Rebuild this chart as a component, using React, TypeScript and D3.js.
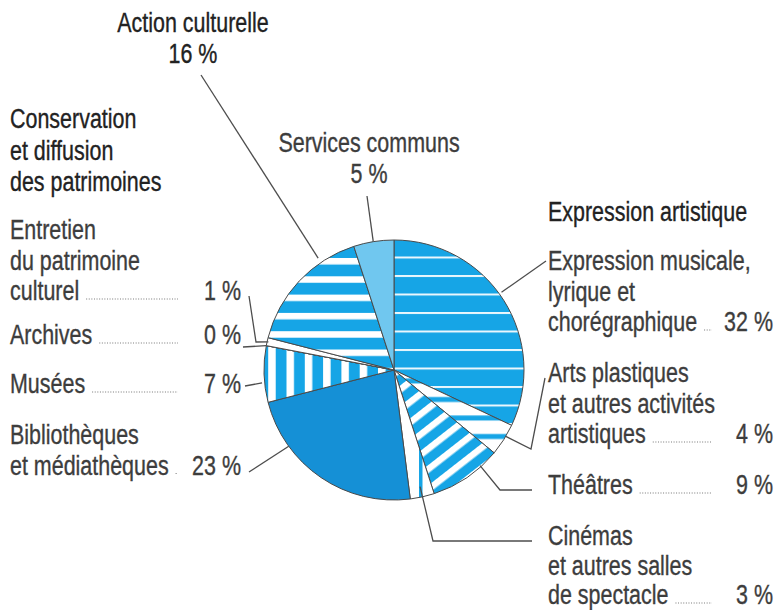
import React, { useLayoutEffect, useRef, useState } from "react";
import * as d3 from "d3";

// ---------- DATA ----------
const categories = [
  "Expression musicale, lyrique et chorégraphique",
  "Arts plastiques et autres activités artistiques",
  "Théâtres",
  "Cinémas et autres salles de spectacle",
  "Bibliothèques et médiathèques",
  "Musées",
  "Archives",
  "Entretien du patrimoine culturel",
  "Action culturelle",
  "Services communs",
];
const values = [32, 4, 9, 3, 23, 7, 0, 1, 16, 5];
const labelLines = [
  ["Expression musicale,", "lyrique et", "chorégraphique"],
  ["Arts plastiques", "et autres activités", "artistiques"],
  ["Théâtres"],
  ["Cinémas", "et autres salles", "de spectacle"],
  ["Bibliothèques", "et médiathèques"],
  ["Musées"],
  ["Archives"],
  ["Entretien", "du patrimoine", "culturel"],
  ["Action culturelle"],
  ["Services communs"],
];
const groupTitles = [
  ["Expression artistique"],
  ["Conservation", "et diffusion", "des patrimoines"],
];

// ---------- LAYOUT / STYLE ----------
const W = 777, H = 610;
const CX = 394, CY = 370, R = 130;
const LH = 30.5;
const FONT = "'Liberation Sans', Arial, sans-serif";
const FS = 27;
const SX = 0.795;
const TEXT = "#3d3d3d";
const HEAD = "#222";
const BLUE = "#16a5e6";

const fills = [
  "url(#p-expr)", "url(#p-arts)", "url(#p-theatre)", "url(#p-cinema)",
  "#1590d6", "url(#p-musees)", "#ffffff", "#ffffff", "url(#p-action)", "#70c7ef",
];

type Lay = { x: number; y: number; lh?: number; anchor: "start" | "middle"; pctX?: number; dotEnd?: number; pctBelow?: boolean };
const layout: Lay[] = [
  { x: 548, y: 270, anchor: "start", pctX: 773, dotEnd: 712 },
  { x: 548, y: 382, anchor: "start", pctX: 773, dotEnd: 712 },
  { x: 548, y: 494, anchor: "start", pctX: 773, dotEnd: 712 },
  { x: 548, y: 545, lh: 29.5, anchor: "start", pctX: 773, dotEnd: 712 },
  { x: 10, y: 444, anchor: "start", pctX: 241, dotEnd: 178 },
  { x: 10, y: 393, anchor: "start", pctX: 241, dotEnd: 178 },
  { x: 10, y: 344, anchor: "start", pctX: 241, dotEnd: 178 },
  { x: 10, y: 239, anchor: "start", pctX: 241, dotEnd: 178 },
  { x: 193, y: 32, anchor: "middle", pctBelow: true },
  { x: 369, y: 152, anchor: "middle", pctBelow: true },
];

// leader lines: t = fraction along slice angle, k = radius factor, pts = outer points (from label)
const leaders: { t: number; k: number; pts: [number, number][] }[] = [
  { t: 0.47, k: 1.02, pts: [[546, 261]] },
  { t: 0.38, k: 1.0, pts: [[545, 378], [531, 449]] },
  { t: 0.26, k: 0.99, pts: [[532, 490], [500, 490]] },
  { t: 0.5, k: 0.92, pts: [[532, 541], [433, 541]] },
  { t: 0.74, k: 1.0, pts: [[249, 472]] },
  { t: 0.35, k: 1.02, pts: [[245, 386]] },
  { t: 0.5, k: 1.0, pts: [[243, 347]] },
  { t: 0.5, k: 0.99, pts: [[249, 296], [256, 342]] },
  { t: 0.72, k: 1.04, pts: [[201, 75]] },
  { t: 0.49, k: 1.0, pts: [[367, 196]] },
];

function T(props: { x: number; y: number; anchor?: string; fill?: string; children: React.ReactNode; tref?: (el: SVGTextElement | null) => void }) {
  const f = props.fill || TEXT;
  return (
    <text
      ref={props.tref}
      transform={`translate(${props.x},${props.y}) scale(${SX},1)`}
      textAnchor={props.anchor || "start"}
      fontFamily={FONT}
      fontSize={FS}
      fill={f}
      stroke={f}
      strokeWidth={0.35}
    >
      {props.children}
    </text>
  );
}

export default function App() {
  const pie = d3.pie<number>().sort(null).value((d) => d);
  const arcs = pie(values);
  const arc = d3.arc<d3.PieArcDatum<number>>().innerRadius(0).outerRadius(R);
  const pt = (a: number, r: number): [number, number] => [CX + r * Math.sin(a), CY - r * Math.cos(a)];

  const lastRefs = useRef<(SVGTextElement | null)[]>([]);
  const svgRef = useRef<SVGSVGElement | null>(null);
  const [dotStarts, setDotStarts] = useState<number[]>([]);

  useLayoutEffect(() => {
    const svg = svgRef.current;
    if (!svg) return;
    const sr = svg.getBoundingClientRect();
    const s = lastRefs.current.map((el) => (el ? el.getBoundingClientRect().right - sr.left + 7 : 0));
    setDotStarts(s);
  }, []);

  return (
    <svg ref={svgRef} width={W} height={H} style={{ position: "absolute", left: 0, top: 0, background: "#fff" }}>
      <defs>
        <pattern id="p-expr" patternUnits="userSpaceOnUse" width={20} height={18.5} y={275}>
          <rect width={20} height={18.5} fill={BLUE} />
          <rect y={0} width={20} height={2} fill="#eaf7fd" />
        </pattern>
        <pattern id="p-arts" patternUnits="userSpaceOnUse" width={20} height={18.5} y={275}>
          <rect width={20} height={18.5} fill="#fff" />
          <rect y={11} width={20} height={5} fill={BLUE} />
        </pattern>
        <pattern id="p-theatre" patternUnits="userSpaceOnUse" width={20} height={16} patternTransform="rotate(-38)">
          <rect width={20} height={16} fill={BLUE} />
          <rect y={0} width={20} height={6.5} fill="#fff" />
        </pattern>
        <pattern id="p-cinema" patternUnits="userSpaceOnUse" width={40} height={20} x={425}>
          <rect width={40} height={20} fill="#fff" />
          <rect x={0} width={3.5} height={20} fill={BLUE} />
        </pattern>
        <pattern id="p-musees" patternUnits="userSpaceOnUse" width={18.3} height={20} x={258.5}>
          <rect width={18.3} height={20} fill={BLUE} />
          <rect x={0} width={7.5} height={20} fill="#fff" />
        </pattern>
        <pattern id="p-action" patternUnits="userSpaceOnUse" width={20} height={18.3} y={254}>
          <rect width={20} height={18.3} fill={BLUE} />
          <rect y={0} width={20} height={6.5} fill="#fff" />
        </pattern>
      </defs>

      {/* pie */}
      <g transform={`translate(${CX},${CY})`}>
        {arcs.map((a, i) => (
          <path key={categories[i]} d={arc(a) || ""} fill={fills[i]} stroke="#4a4a4a" strokeWidth={1} strokeLinejoin="round" />
        ))}
      </g>

      {/* leader lines */}
      {arcs.map((a, i) => {
        const L = leaders[i];
        const ang = a.startAngle + (a.endAngle - a.startAngle) * L.t;
        const inner = pt(ang, R * L.k);
        const line = d3.line()([...L.pts, inner] as [number, number][]);
        return <path key={"l" + i} d={line || ""} fill="none" stroke="#4d4d4d" strokeWidth={1.3} />;
      })}

      {/* group titles */}
      {groupTitles[0].map((s, j) => (
        <T key={"g0" + j} x={548} y={221 + j * LH} fill={HEAD}>{s}</T>
      ))}
      {groupTitles[1].map((s, j) => (
        <T key={"g1" + j} x={10} y={128 + j * 31.5} fill={HEAD}>{s}</T>
      ))}

      {/* labels */}
      {labelLines.map((lines, i) => {
        const L = layout[i];
        const lh = L.lh || LH;
        const pct = `${values[i]} %`;
        const lastY = L.y + (lines.length - 1) * lh;
        const head = i === 8;
        const ds = dotStarts[i];
        return (
          <g key={"t" + i}>
            {lines.map((s, j) => (
              <T key={j} x={L.x} y={L.y + j * lh} anchor={L.anchor} fill={head ? HEAD : TEXT}
                tref={j === lines.length - 1 ? (el) => { lastRefs.current[i] = el; } : undefined}>
                {s}
              </T>
            ))}
            {L.pctBelow ? (
              <T x={L.x} y={lastY + lh} anchor="middle" fill={head ? HEAD : TEXT}>{pct}</T>
            ) : (
              <>
                <T x={L.pctX!} y={lastY} anchor="end">{pct}</T>
                {ds && L.dotEnd && ds < L.dotEnd ? (
                  <line x1={ds} x2={L.dotEnd} y1={lastY - 1} y2={lastY - 1} stroke="#777" strokeWidth={1.1} strokeDasharray="1,1.6" />
                ) : null}
              </>
            )}
          </g>
        );
      })}
    </svg>
  );
}
